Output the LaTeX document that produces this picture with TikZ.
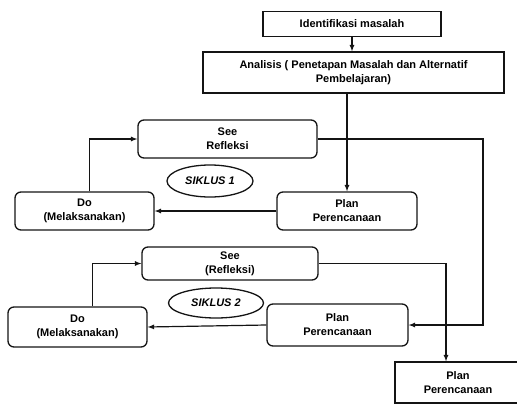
\documentclass[tikz,border=0pt]{standalone}
\usepackage{fontspec}
\setmainfont{Liberation Sans}
\usepackage{tikz}
\usetikzlibrary{shapes.geometric, arrows, positioning, calc}
\definecolor{inkblack}{RGB}{20, 20, 20}
\tikzset{
  flowbox/.style={draw=inkblack, line width=1.3pt, minimum height=38pt, align=center,
                  inner sep=2pt, font=\fontsize{11}{14}\selectfont\bfseries},
  roundbox/.style={flowbox, rounded corners=6pt},
  cyclelabel/.style={ellipse, draw=inkblack, line width=1.3pt, inner sep=0pt,
                     font=\fontsize{11}{14}\selectfont\bfseries\itshape},
  flowline/.style={draw=inkblack, line width=1.2pt, -latex}
}
\begin{document}
\begin{tikzpicture}[x=1pt, y=-1pt]
    \useasboundingbox (0,0) rectangle (517,405);
    \node[flowbox, minimum width=178pt, minimum height=25pt] (ident) at (352,24) {Identifikasi masalah};
    \node[flowbox, minimum width=301pt, minimum height=41pt] (analisis) at (353.5,72.5)
        {Analisis ( Penetapan Masalah dan Alternatif\\ Pembelajaran)};
    \node[roundbox, minimum width=179pt] (see1) at (227.5,139) {See\\Refleksi};
    \node[roundbox, minimum width=139pt] (do1) at (84.5,211) {Do\\(Melaksanakan)};
    \node[roundbox, minimum width=140pt] (plan1) at (347,211) {Plan\\Perencanaan};
    \node[cyclelabel, minimum width=86pt, minimum height=32pt] (siklus1) at (210,181) {SIKLUS 1};
    \node[roundbox, minimum width=176pt, minimum height=33pt] (see2) at (230,263.5) {See\\(Refleksi)};
    \node[roundbox, minimum width=139pt, minimum height=40pt] (do2) at (77.5,327) {Do\\(Melaksanakan)};
    \node[roundbox, minimum width=141pt, minimum height=42pt] (plan2) at (337.5,325) {Plan\\Perencanaan};
    \node[cyclelabel, minimum width=95pt, minimum height=30pt] (siklus2) at (216,303) {SIKLUS 2};
    \node[flowbox, minimum width=126pt, minimum height=41pt] (plan3) at (458,382.5) {Plan\\Perencanaan};
    \coordinate (rightbend) at (483,142);
    \coordinate (downbend) at (446,263.5);

    \draw[flowline] (ident.south) -- (ident.south |- analisis.north);
    \draw[flowline] (plan1.north |- analisis.south) -- (plan1.north);
    \draw[flowline] (plan1.west) -- (do1.east);
    \draw[flowline] ([xshift=5pt]do1.north) |- (see1.west);
    \draw[flowline] (see1.east) -- (see1.east -| rightbend) -- (rightbend |- plan2.east) -- (plan2.east);
    \draw[flowline] (plan2.west) -- (do2.east);
    \draw[flowline] ([xshift=15pt]do2.north) |- (see2.west);
    \draw[flowline] (see2.east) -- (downbend) -- (downbend |- plan3.north);
\end{tikzpicture}
\end{document}
